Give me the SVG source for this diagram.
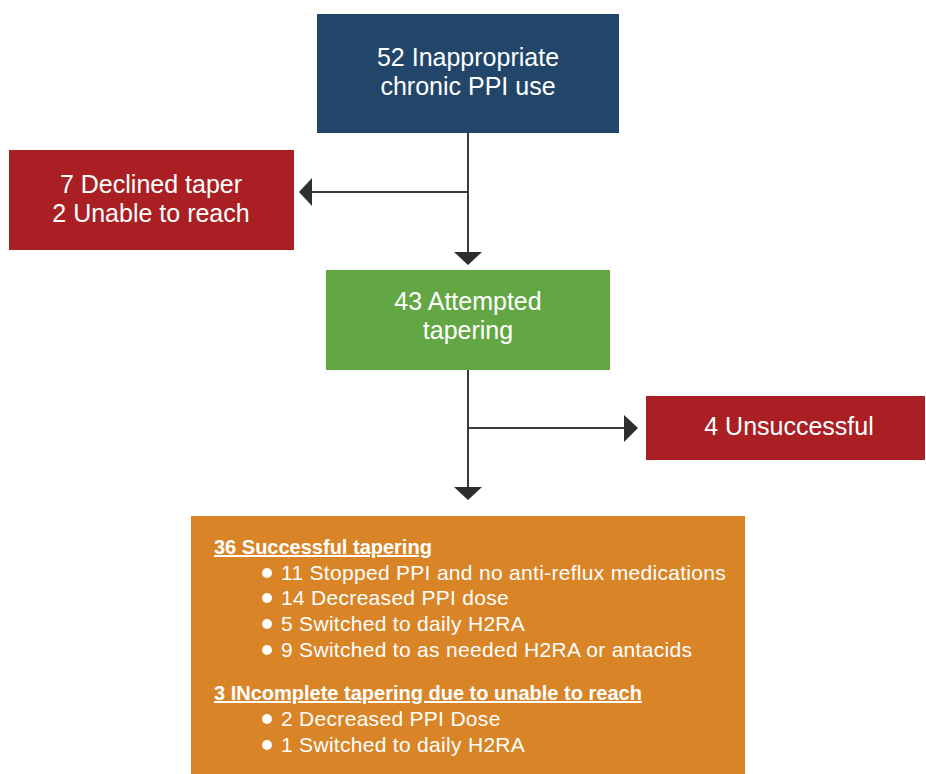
<svg xmlns="http://www.w3.org/2000/svg" width="926" height="774" viewBox="0 0 926 774">
<style>
.t{font-family:"Liberation Sans",Arial,sans-serif;font-size:25px;fill:#fff;text-anchor:middle}
.b{font-family:"Liberation Sans",Arial,sans-serif;font-size:21px;letter-spacing:0.3px;fill:#fff}
.h{font-family:"Liberation Sans",Arial,sans-serif;font-size:20px;fill:#fff;font-weight:bold;text-decoration:underline}
.c{stroke:#3a3a3a;stroke-width:2;fill:none}
.a{fill:#2e2e2e}
</style>
<rect width="926" height="774" fill="#fff"/>
<g id="connectors">
<path class="c" d="M468 133V252M468 192H312M468 370V487M468 428H624"/>
<polygon class="a" points="454,252 482,252 468,265"/>
<polygon class="a" points="312,178 312,206 299,192"/>
<polygon class="a" points="454,487 482,487 468,500"/>
<polygon class="a" points="624,415 624,442 638,428"/>
</g>
<g id="n1">
<rect x="317" y="14" width="302" height="119" fill="#22466a"/>
<text class="t" x="468" y="66">52 Inappropriate</text>
<text class="t" x="468" y="95">chronic PPI use</text>
</g>
<g id="n2">
<rect x="9" y="150" width="285" height="100" fill="#a91f24"/>
<text class="t" x="151" y="193">7 Declined taper</text>
<text class="t" x="151" y="222">2 Unable to reach</text>
</g>
<g id="n3">
<rect x="326" y="270" width="284" height="100" fill="#62a744"/>
<text class="t" x="468" y="310">43 Attempted</text>
<text class="t" x="468" y="339">tapering</text>
</g>
<g id="n4">
<rect x="646" y="396" width="279" height="64" fill="#a91f24"/>
<text class="t" x="789" y="435">4 Unsuccessful</text>
</g>
<g id="n5">
<rect x="191" y="516" width="554" height="258" fill="#d98527"/>
<text class="h" x="214" y="554">36 Successful tapering</text>
<g fill="#fff"><circle cx="267" cy="573" r="5"/><circle cx="267" cy="598" r="5"/><circle cx="267" cy="624" r="5"/><circle cx="267" cy="650" r="5"/><circle cx="267" cy="719" r="5"/><circle cx="267" cy="745" r="5"/></g>
<text class="b" x="281" y="580">11 Stopped PPI and no anti-reflux medications</text>
<text class="b" x="281" y="605">14 Decreased PPI dose</text>
<text class="b" x="281" y="631">5 Switched to daily H2RA</text>
<text class="b" x="281" y="657">9 Switched to as needed H2RA or antacids</text>
<text class="h" x="214" y="700">3 INcomplete tapering due to unable to reach</text>
<text class="b" x="281" y="726">2 Decreased PPI Dose</text>
<text class="b" x="281" y="752">1 Switched to daily H2RA</text>
</g>
</svg>
